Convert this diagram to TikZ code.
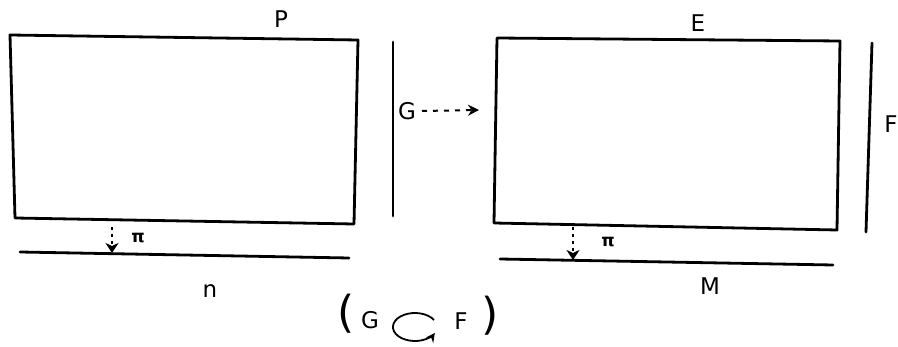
\documentclass[tikz,border=0pt]{standalone}
\usepackage{fontspec}
\setmainfont{DejaVu Sans}
\usetikzlibrary{arrows.meta}
\begin{document}
\begin{tikzpicture}[x=1pt,y=-1pt,
  edge/.style={line width=2.8pt,line cap=round,line join=round},
  lbl/.style={inner sep=0pt,font=\fontsize{23}{23}\selectfont},
  small/.style={inner sep=0pt,font=\fontsize{17}{17}\selectfont\bfseries},
  dashedarrow/.style={line width=2pt,dash pattern=on 5pt off 6pt,-{Stealth[length=11pt,width=11pt]}},
  dottedarrow/.style={line width=2pt,dash pattern=on 3pt off 4pt,-{Stealth[length=10pt,width=13pt,inset=3pt]}}]
\useasboundingbox (0,0) rectangle (898,347);
% left bundle P
\coordinate (p1) at (10,35);
\coordinate (p2) at (358,40);
\coordinate (p3) at (354,224);
\coordinate (p4) at (15,218);
\draw[edge] (p1) -- (p2) -- (p3) -- (p4) -- cycle;
\node[lbl] (P) at (281,19) {P};
% fibre G
\coordinate (g1) at (393,42);
\coordinate (g2) at (393,216);
\draw[edge] (g1) -- (g2);
\node[lbl] (G) at (407,111) {G};
% right bundle E
\coordinate (e1) at (497,38);
\coordinate (e2) at (840,41);
\coordinate (e3) at (837,230);
\coordinate (e4) at (494,223);
\draw[edge] (e1) -- (e2) -- (e3) -- (e4) -- cycle;
\node[lbl] (E) at (698,23) {E};
% fibre F
\coordinate (f1) at (872,43);
\coordinate (f2) at (866,232);
\draw[edge] (f1) -- (f2);
\node[lbl] (F) at (891,124) {F};
% G --> E
\coordinate (gout) at (422,111);
\coordinate (ein) at (479,110);
\draw[dashedarrow] (gout) -- (ein);
% base n
\coordinate (n1) at (20,252);
\coordinate (n2) at (349,258);
\draw[edge] (n1) -- (n2);
\node[lbl] (N) at (210,291) {n};
\coordinate (pa) at (112,227);
\coordinate (pb) at (112,253);
\draw[dottedarrow] (pa) -- (pb);
\node[small] (pi1) at (138,238) {π};
% base M
\coordinate (m1) at (500,259);
\coordinate (m2) at (833,265);
\draw[edge] (m1) -- (m2);
\node[lbl] (M) at (710,286) {M};
\coordinate (ma) at (573,227);
\coordinate (mb) at (573,260);
\draw[dottedarrow] (ma) -- (mb);
\node[small] (pi2) at (608,242) {π};
% (G action F)
\node[inner sep=0pt,font=\fontsize{44}{44}\selectfont] (lp) at (346,314) {(};
\node[inner sep=0pt,font=\fontsize{44}{44}\selectfont] (rp) at (490,316) {)};
\node[lbl] (Gc) at (370,320) {G};
\node[lbl] (Fc) at (461,321) {F};
\coordinate (rot) at (415,327);
\draw[line width=1.8pt,-{Stealth[length=9pt,width=9pt]}] (rot) ++(19pt,7pt) arc[start angle=30,end angle=335,x radius=22pt,y radius=14pt];
\end{tikzpicture}
\end{document}
